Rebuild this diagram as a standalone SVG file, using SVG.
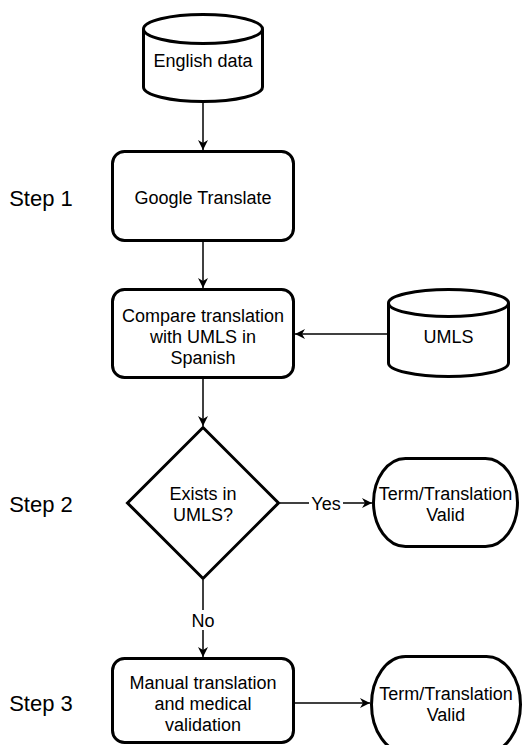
<svg xmlns="http://www.w3.org/2000/svg" width="525" height="745" viewBox="0 0 525 745">
<defs>
<style>
.node{fill:#fff;stroke:#000;stroke-width:3}
.edge{fill:none;stroke:#000;stroke-width:1.5}
text{font-family:"Liberation Sans",Helvetica,Arial,sans-serif;fill:#000}
.t{font-size:18px;text-anchor:middle}
.step{font-size:22px;text-anchor:middle}
.lbl{font-size:18px;text-anchor:middle}
</style>
<marker id="arr" viewBox="0 0 10 10" refX="10" refY="5" markerWidth="10" markerHeight="10" markerUnits="userSpaceOnUse" orient="auto">
<path d="M0,0 L10,5 L0,10 L3,5 Z" fill="#000"/>
</marker>
</defs>
<rect width="525" height="745" fill="#fff"/>

<g id="step-labels">
<text class="step" x="41" y="206">Step 1</text>
<text class="step" x="41" y="512">Step 2</text>
<text class="step" x="41" y="711">Step 3</text>
</g>

<g id="connectors">
<line class="edge" x1="203" y1="102" x2="203" y2="150" marker-end="url(#arr)"/>
<line class="edge" x1="203" y1="242" x2="203" y2="288" marker-end="url(#arr)"/>
<line class="edge" x1="387" y1="334" x2="295" y2="334" marker-end="url(#arr)"/>
<line class="edge" x1="203" y1="379" x2="203" y2="426" marker-end="url(#arr)"/>
<line class="edge" x1="280" y1="503" x2="372" y2="503" marker-end="url(#arr)"/>
<line class="edge" x1="203" y1="580" x2="203" y2="657" marker-end="url(#arr)"/>
<line class="edge" x1="295" y1="703" x2="370" y2="703" marker-end="url(#arr)"/>
<rect x="309" y="493" width="34" height="20" fill="#fff"/>
<text class="lbl" x="326" y="509.5">Yes</text>
<rect x="190" y="610" width="26" height="20" fill="#fff"/>
<text class="lbl" x="203" y="626.5">No</text>
</g>

<g id="english-data">
<path class="node" d="M143.5,29 A59.5,14.5 0 0,1 262.5,29 L262.5,87 A59.5,14.5 0 0,1 143.5,87 Z"/>
<path class="node" fill="none" d="M143.5,29 A59.5,14.5 0 0,0 262.5,29"/>
<text class="t" x="203" y="67">English data</text>
</g>

<g id="google-translate">
<rect class="node" x="112.5" y="151.5" width="181" height="89" rx="12" ry="12"/>
<text class="t" x="203" y="204">Google Translate</text>
</g>

<g id="compare">
<rect class="node" x="112.5" y="289.5" width="181" height="88" rx="12" ry="12"/>
<text class="t" x="203" y="322">Compare translation</text>
<text class="t" x="203" y="343">with UMLS in</text>
<text class="t" x="203" y="364">Spanish</text>
</g>

<g id="umls">
<path class="node" d="M388.5,303 A60,13.5 0 0,1 508.5,303 L508.5,363 A60,13.5 0 0,1 388.5,363 Z"/>
<path class="node" fill="none" d="M388.5,303 A60,13.5 0 0,0 508.5,303"/>
<text class="t" x="448.5" y="343">UMLS</text>
</g>

<g id="exists-decision">
<polygon class="node" points="203,427.5 278.5,503 203,578.5 127.5,503"/>
<text class="t" x="203" y="500">Exists in</text>
<text class="t" x="203" y="521">UMLS?</text>
</g>

<g id="valid-1">
<rect class="node" x="373.5" y="458.5" width="144" height="88" rx="32" ry="44"/>
<text class="t" x="445.5" y="500">Term/Translation</text>
<text class="t" x="445.5" y="521">Valid</text>
</g>

<g id="manual">
<rect class="node" x="112.5" y="658.5" width="181" height="84" rx="12" ry="12"/>
<text class="t" x="203" y="689">Manual translation</text>
<text class="t" x="203" y="710">and medical</text>
<text class="t" x="203" y="731">validation</text>
</g>

<g id="valid-2">
<rect class="node" x="371.5" y="656.5" width="149" height="96" rx="34" ry="48"/>
<text class="t" x="446" y="700">Term/Translation</text>
<text class="t" x="446" y="721">Valid</text>
</g>
</svg>
